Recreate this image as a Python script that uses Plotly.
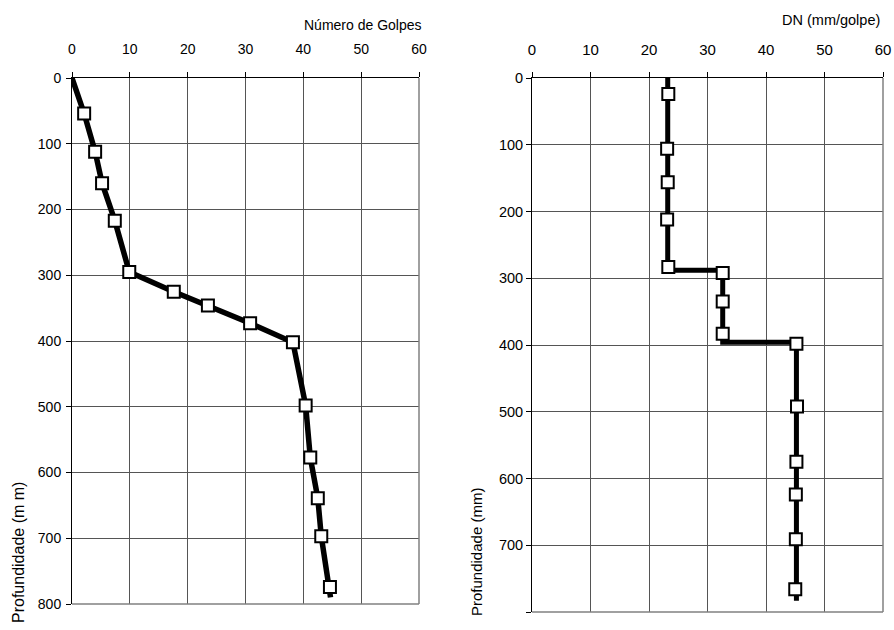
import plotly.graph_objects as go

# Left chart: Número de Golpes vs Profundidade
golpes_marker = [2.1, 4.0, 5.2, 7.4, 9.9, 17.6, 23.5, 30.8, 38.2, 40.4, 41.2, 42.5, 43.1, 44.6]
prof_marker = [54, 112, 160, 217, 295, 325, 346, 373, 402, 498, 577, 639, 697, 774]
golpes_line = [0.0] + golpes_marker + [44.7]
prof_line = [0] + prof_marker + [790]

# Right chart: DN (mm/golpe) vs Profundidade
dn_marker = [23.3, 23.1, 23.2, 23.1, 23.3, 32.6, 32.6, 32.6, 45.2, 45.3, 45.2, 45.1, 45.1, 45.0]
dn_prof_marker = [24, 106, 156, 212, 283, 292, 335, 383, 398, 492, 575, 624, 691, 766]
dn_line = [23.2, 23.2, 32.6, 32.6, 45.2, 45.2]
dn_prof_line = [0, 288, 288, 396, 396, 783]

x_ticks = [0, 10, 20, 30, 40, 50, 60]
left_y_ticks = [0, 100, 200, 300, 400, 500, 600, 700, 800]
left_y_text = [str(v) for v in left_y_ticks]
right_y_ticks = [0, 100, 200, 300, 400, 500, 600, 700, 800]
right_y_text = ["0", "100", "200", "300", "400", "500", "600", "700", ""]

font_family = "Liberation Sans, Arial, Helvetica, sans-serif"

fig = go.Figure()

fig.add_trace(go.Scatter(x=golpes_line, y=prof_line, mode="lines",
                         line=dict(color="black", width=5.5), xaxis="x", yaxis="y",
                         showlegend=False, hoverinfo="skip"))
fig.add_trace(go.Scatter(x=golpes_marker, y=prof_marker, mode="markers",
                         marker=dict(symbol="square", size=12, color="white",
                                     line=dict(color="black", width=2)),
                         xaxis="x", yaxis="y", showlegend=False))
fig.add_trace(go.Scatter(x=dn_line, y=dn_prof_line, mode="lines",
                         line=dict(color="black", width=5), xaxis="x2", yaxis="y2",
                         showlegend=False, hoverinfo="skip"))
fig.add_trace(go.Scatter(x=dn_marker, y=dn_prof_marker, mode="markers",
                         marker=dict(symbol="square", size=12, color="white",
                                     line=dict(color="black", width=2)),
                         xaxis="x2", yaxis="y2", showlegend=False))

W, H = 894, 630

def xd(a, b):
    return [a / W, b / W]

def yd(top, bottom):
    return [1 - bottom / H, 1 - top / H]

axis_common = dict(showgrid=True, gridcolor="#555555", gridwidth=1,
                   showline=True, linecolor="black", linewidth=1,
                   ticks="outside", ticklen=5, tickcolor="black",
                   zeroline=False, automargin=False)

fig.update_layout(
    width=W, height=H,
    margin=dict(l=0, r=0, t=0, b=0),
    paper_bgcolor="white", plot_bgcolor="white",
    xaxis=dict(domain=xd(72, 419), range=[0, 60], side="top", anchor="y",
               tickvals=x_ticks, ticklabelstandoff=12,
               tickfont=dict(family=font_family, size=14, color="black"), **axis_common),
    yaxis=dict(domain=yd(78, 604), range=[800, 0], anchor="x",
               tickvals=left_y_ticks, ticktext=left_y_text, ticklabelstandoff=2,
               tickfont=dict(family=font_family, size=14, color="black"), **axis_common),
    xaxis2=dict(domain=xd(532, 883), range=[0, 60], side="top", anchor="y2",
                tickvals=x_ticks, ticklabelstandoff=11,
                tickfont=dict(family=font_family, size=15, color="black"), **axis_common),
    yaxis2=dict(domain=yd(78, 612), range=[800, 0], anchor="x2",
                tickvals=right_y_ticks, ticktext=right_y_text,
                tickfont=dict(family=font_family, size=14.5, color="black"), **axis_common),
    shapes=[
        dict(type="line", xref="x domain", yref="y domain", x0=1, x1=1, y0=0, y1=1,
             line=dict(color="#808080", width=1.5)),
        dict(type="line", xref="x domain", yref="y domain", x0=0, x1=1, y0=0, y1=0,
             line=dict(color="#808080", width=1.5)),
        dict(type="line", xref="x2 domain", yref="y2 domain", x0=1, x1=1, y0=0, y1=1,
             line=dict(color="#808080", width=1.5)),
        dict(type="line", xref="x2 domain", yref="y2 domain", x0=0, x1=1, y0=0, y1=0,
             line=dict(color="#808080", width=1.5)),
    ],
    annotations=[
        dict(text="Número de Golpes", xref="paper", yref="paper",
             x=424 / W, y=1 - 25 / H, xanchor="right", yanchor="middle",
             showarrow=False, font=dict(family=font_family, size=14, color="black")),
        dict(text="DN (mm/golpe)", xref="paper", yref="paper",
             x=882 / W, y=1 - 20 / H, xanchor="right", yanchor="middle",
             showarrow=False, font=dict(family=font_family, size=14.5, color="black")),
        dict(text="Profundidade (m m)", xref="paper", yref="paper",
             x=18 / W, y=1 - 553 / H, xanchor="center", yanchor="middle",
             textangle=-90, showarrow=False,
             font=dict(family=font_family, size=16, color="black")),
        dict(text="Profundidade (mm)", xref="paper", yref="paper",
             x=476 / W, y=1 - 552 / H, xanchor="center", yanchor="middle",
             textangle=-90, showarrow=False,
             font=dict(family=font_family, size=15, color="black")),
    ],
)

fig.write_html("out.html",
               config={"displayModeBar": False},
               post_script="document.body.style.margin='0';document.body.style.padding='0';")
